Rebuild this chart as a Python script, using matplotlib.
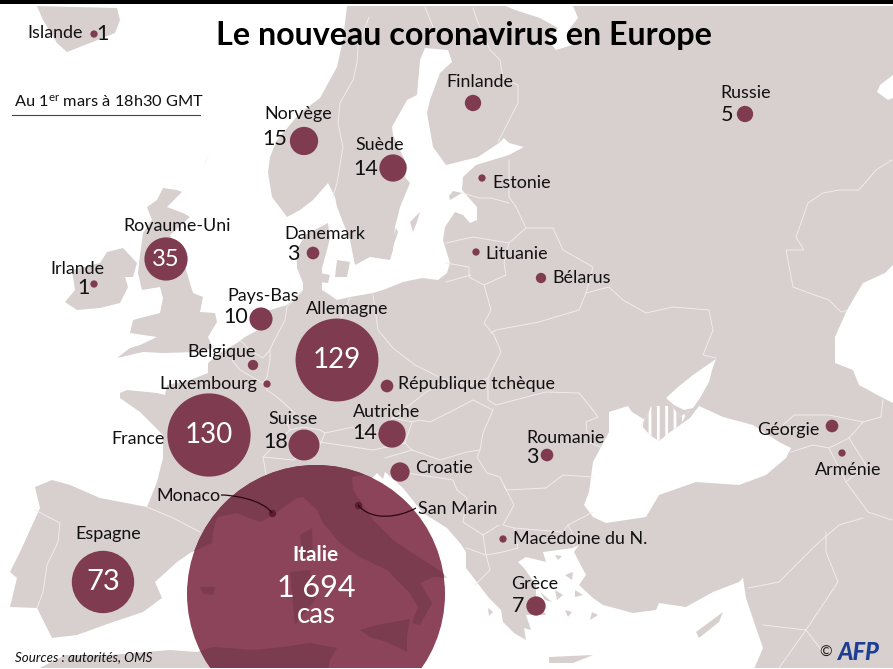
# -*- coding: utf-8 -*-
import numpy as np
import matplotlib
matplotlib.use('Agg')
import matplotlib.pyplot as plt
from matplotlib.patches import Circle, PathPatch
from matplotlib.path import Path

# cases per country (unlabelled ones)
countries = ['Islande', 'Norvège', 'Suède', 'Finlande', 'Russie', 'Estonie', 'Lituanie', 'Bélarus',
             'Royaume-Uni', 'Danemark', 'Irlande', 'Pays-Bas', 'Allemagne', 'Belgique', 'Luxembourg',
             'France', 'Suisse', 'Autriche', 'République tchèque', 'Croatie', 'Roumanie', 'Géorgie',
             'Arménie', 'Macédoine du N.', 'Grèce', 'Espagne', 'Italie', 'Monaco', 'San Marin']
cases = [1, 15, 14, 5, 5, 1, 1, 2, 35, 3, 1, 10, 129, 2, 1, 130, 18, 14, 3, 7, 3, 3, 1, 1, 7, 73, 1694, 1, 1]

# where each country sits on the map (map pixels)
map_x = [94, 304, 393, 473, 745, 482, 476, 541, 166, 313, 94, 261, 337, 253, 267, 209, 304, 392, 387, 400,
         547, 832, 842, 503, 536, 103, 316, 272, 358]
map_y = [34, 141, 168, 103, 114, 178, 252, 278, 259, 253, 284, 319, 360, 365, 384, 435, 445, 434, 386, 472,
         455, 426, 453, 539, 606, 582, 594, 513, 505]

# name labels: x, y, horizontal alignment
name_pos = {
    'Islande': (27, 33, 'left'), 'Norvège': (298, 114, 'center'), 'Suède': (380, 145, 'center'),
    'Finlande': (480, 82, 'center'), 'Russie': (746, 93, 'center'), 'Estonie': (492, 183, 'left'),
    'Lituanie': (485, 254, 'left'), 'Bélarus': (552, 278, 'left'), 'Royaume-Uni': (177, 226, 'center'),
    'Danemark': (325, 234, 'center'), 'Irlande': (77, 269, 'center'), 'Pays-Bas': (263, 296, 'center'),
    'Allemagne': (347, 309, 'center'), 'Belgique': (222, 352, 'center'), 'Luxembourg': (208, 384, 'center'),
    'France': (138, 439, 'center'), 'Suisse': (293, 419, 'center'), 'Autriche': (387, 412, 'center'),
    'République tchèque': (398, 384, 'left'), 'Croatie': (415, 468, 'left'), 'Roumanie': (566, 438, 'center'),
    'Géorgie': (788, 430, 'center'), 'Arménie': (848, 470, 'center'), 'Macédoine du N.': (513, 539, 'left'),
    'Grèce': (535, 584, 'center'), 'Espagne': (108, 534, 'center'), 'Monaco': (188, 496, 'center'),
    'San Marin': (418, 509, 'left'),
}
# case numbers written beside the bubble
side_numbers = {'Islande': (102, 34), 'Norvège': (275, 139), 'Suède': (366, 169), 'Russie': (727, 115),
                'Danemark': (293, 254), 'Irlande': (83, 288), 'Pays-Bas': (236, 317), 'Suisse': (276, 442),
                'Autriche': (365, 433), 'Roumanie': (532, 457), 'Grèce': (518, 606)}
inner_numbers = {'Royaume-Uni': ('35', 17), 'Allemagne': ('129', 20), 'France': ('130', 20), 'Espagne': ('73', 21)}

LAND = '#d8cfcf'
BUBBLE = '#7f3c50'

mainland = [(347, 6), (343, 40), (337, 67), (320, 98), (300, 113), (277, 140), (270, 157), (268, 173),
            (272, 197), (287, 217), (300, 210), (313, 200), (328, 183), (335, 197), (337, 207), (350, 240),
            (355, 265), (370, 257), (390, 260), (393, 250), (395, 227), (400, 207), (410, 183), (405, 177),
            (407, 165), (393, 135), (392, 127), (407, 100), (417, 95), (420, 60), (425, 48), (448, 50),
            (452, 62), (440, 73), (430, 100), (427, 113), (433, 147), (446, 165), (478, 157), (499, 143),
            (504, 138), (509, 143), (524, 147), (509, 155), (476, 165), (463, 177), (462, 190), (477, 207),
            (477, 220), (470, 223), (463, 215), (455, 212), (445, 227), (443, 240), (450, 263), (447, 273),
            (438, 280), (422, 278), (403, 282), (383, 290), (373, 293), (350, 297), (337, 300), (330, 295),
            (322, 290), (322, 268), (327, 250), (330, 238), (328, 223), (305, 235), (297, 250), (297, 268),
            (303, 283), (303, 290), (287, 305), (270, 310), (253, 310), (258, 330), (245, 337), (237, 343),
            (220, 353), (208, 363), (208, 373), (190, 380), (167, 385), (165, 395), (157, 393), (127, 390),
            (120, 393), (120, 398), (140, 412), (163, 435), (163, 458), (157, 482), (147, 507), (100, 498),
            (70, 485), (52, 480), (35, 487), (40, 508), (20, 552), (10, 572), (17, 578), (10, 607), (37, 608),
            (52, 638), (77, 635), (113, 622), (143, 612), (162, 598), (155, 582), (177, 562), (190, 553),
            (212, 543), (213, 532), (217, 517), (237, 513), (260, 522), (270, 517), (297, 498), (303, 497),
            (317, 510), (323, 523), (340, 543), (360, 557), (387, 570), (410, 593), (418, 607), (412, 623),
            (420, 625), (432, 603), (420, 583), (433, 577), (447, 578), (442, 572), (412, 553), (393, 540),
            (373, 520), (353, 490), (352, 477), (364, 475), (372, 478), (377, 473), (383, 479), (385, 472), (403, 488),
            (423, 513), (447, 528), (460, 543), (466, 552), (466, 568), (489, 598), (501, 610), (503, 622),
            (514, 633), (526, 640), (524, 628), (531, 630), (526, 615), (546, 615), (536, 598), (536, 585),
            (524, 568), (518, 562), (526, 557), (546, 562), (543, 552), (573, 548), (579, 545), (574, 552),
            (586, 575), (579, 585), (593, 598), (603, 605), (633, 613), (656, 610), (659, 603), (686, 607),
            (713, 592), (739, 582), (743, 578), (746, 598), (754, 622), (763, 648), (754, 669), (893, 669),
            (893, 6)]
ireland = [(107, 252), (123, 248), (137, 263), (133, 277), (125, 277), (128, 287), (120, 303), (100, 308),
           (77, 310), (65, 302), (75, 290), (72, 270), (100, 263)]
britain = [(177, 190), (163, 188), (157, 200), (147, 207), (152, 220), (143, 233), (140, 255), (138, 273),
           (142, 290), (160, 287), (163, 298), (160, 313), (133, 320), (130, 333), (157, 337), (140, 345),
           (130, 348), (117, 358), (143, 352), (163, 353), (197, 352), (213, 348), (208, 337), (217, 322),
           (215, 313), (200, 312), (203, 297), (193, 293), (183, 260), (170, 235), (190, 217), (183, 213),
           (167, 207), (182, 192)]
iceland = [(37, 6), (117, 8), (120, 20), (115, 33), (90, 43), (67, 52), (57, 43), (43, 20)]
zealand = [(337, 260), (350, 262), (347, 277), (335, 277)]
funen = [(320, 273), (330, 275), (328, 283), (318, 282)]
gotland = [(420, 212), (410, 222), (413, 232), (417, 222)]
oland = [(396, 228), (398, 232), (392, 250), (391, 246)]
saaremaa = [(450, 200), (462, 193), (453, 191), (449, 196)]
shetland = [(210, 152), (203, 167), (206, 160)]
corsica = [(300, 535), (312, 528), (313, 557), (303, 560)]
sardinia = [(290, 572), (310, 570), (315, 600), (295, 625)]
sicily = [(360, 630), (377, 625), (410, 619), (407, 635), (407, 652), (387, 642), (370, 637)]
majorca = [(200, 587), (215, 587), (213, 595), (204, 594)]
africa = [(38, 669), (65, 655), (110, 655), (170, 650), (197, 652), (213, 647), (253, 650), (283, 647),
          (310, 643), (337, 648), (330, 660), (328, 669)]
cyprus = [(696, 632), (723, 612), (719, 622), (699, 638)]
crete = [(549, 657), (593, 655), (573, 663), (549, 663)]
aegean = [[(565, 575), (573, 572), (572, 580)], [(575, 590), (583, 595), (575, 597)], [(555, 590), (563, 595), (557, 600)],
          [(592, 612), (598, 615), (590, 620)], [(540, 592), (552, 602), (545, 600)], [(565, 610), (572, 612), (568, 617)],
          [(587, 565), (594, 570), (588, 573)], [(555, 555), (562, 556), (558, 560)], [(488, 608), (493, 612), (489, 616)]]
lands = [mainland, ireland, britain, iceland, zealand, funen, gotland, oland, saaremaa, shetland, corsica,
         sardinia, sicily, majorca, africa, cyprus, crete] + aegean

black_sea = [(609, 412), (628, 406), (632, 412), (645, 420), (641, 425), (650, 435), (659, 441), (670, 432),
             (680, 425), (690, 418), (699, 406), (723, 417), (753, 425), (779, 442), (791, 448), (786, 458),
             (766, 475), (739, 485), (696, 482), (659, 495), (646, 517), (606, 523), (593, 517), (584, 505),
             (589, 492), (593, 462), (609, 432)]
azov = [(666, 398), (678, 387), (693, 375), (716, 359), (712, 370), (709, 382), (700, 398), (693, 408),
        (684, 410), (674, 405)]
white_sea = [(506, 6), (573, 6), (578, 18), (570, 28), (572, 45), (556, 50), (548, 40), (558, 28), (540, 18), (515, 10)]
caspian = [(893, 265), (885, 273), (863, 283), (847, 310), (835, 337), (835, 363), (853, 370), (859, 385),
           (883, 398), (893, 403)]
kara_bit = [(893, 75), (880, 85), (877, 92), (888, 100), (893, 98)]
seas = [black_sea, azov, white_sea, caspian, kara_bit]

crimea = [(641, 425), (647, 417), (651, 406), (672, 406), (680, 417), (690, 410), (680, 425), (670, 432), (659, 441), (650, 435)]

borders = [
    [(369, 17), (358, 47), (357, 63), (353, 80), (340, 103), (338, 123), (343, 147), (337, 183), (333, 197)],
    [(425, 7), (433, 27), (427, 43)],
    [(473, 8), (477, 20), (490, 50), (500, 60), (503, 78), (518, 85), (518, 103), (498, 142)],
    [(509, 160), (509, 197), (516, 207), (526, 228), (553, 228), (563, 250), (593, 267), (586, 293), (609, 287),
     (623, 300), (646, 313), (673, 307), (709, 310), (713, 330), (703, 355), (716, 358)],
    [(463, 193), (479, 198), (491, 198), (509, 203)],
    [(526, 228), (509, 243), (473, 237), (446, 243)],
    [(509, 243), (504, 263), (506, 275), (484, 285), (469, 277), (469, 267), (446, 263)],
    [(471, 275), (446, 282)],
    [(484, 285), (491, 310), (484, 323), (494, 335), (501, 352), (488, 378), (488, 400), (496, 405), (546, 392),
     (579, 393), (589, 405), (598, 417), (586, 422), (588, 442), (603, 448)],
    [(586, 293), (579, 310), (539, 322), (496, 330), (491, 333)],
    [(373, 295), (378, 330), (393, 348), (415, 365), (445, 380), (470, 385), (488, 378)],
    [(350, 298), (340, 320)],
    [(303, 290), (287, 307), (285, 320), (273, 343), (270, 350), (270, 360), (267, 377), (263, 383), (267, 390),
     (277, 397), (295, 413), (287, 423), (290, 430), (277, 443), (263, 457), (293, 460), (320, 445), (325, 433)],
    [(240, 340), (250, 350), (263, 358), (270, 350)],
    [(232, 360), (240, 370), (263, 383)],
    [(263, 457), (267, 480), (273, 513)],
    [(290, 430), (303, 427), (320, 430), (325, 433), (353, 427), (372, 437), (393, 418), (425, 393), (445, 380)],
    [(320, 442), (353, 447), (373, 450), (405, 443), (412, 422), (420, 420), (430, 422), (450, 412), (473, 400),
     (493, 410), (483, 433), (480, 450), (467, 452), (440, 460), (412, 450), (405, 443)],
    [(393, 418), (412, 422)],
    [(385, 458), (412, 450)],
    [(395, 472), (407, 473), (453, 480), (457, 490), (467, 498), (463, 522), (483, 535)],
    [(480, 450), (477, 457), (487, 473), (500, 477), (506, 490), (546, 488), (563, 475), (593, 477)],
    [(504, 485), (514, 505), (503, 525), (514, 528), (563, 532), (568, 525), (593, 512)],
    [(568, 525), (573, 535), (574, 548)],
    [(499, 525), (483, 535), (486, 555), (503, 552), (518, 548), (514, 528)],
    [(466, 548), (486, 555), (490, 570), (475, 585)],
    [(147, 507), (173, 518), (200, 532)],
    [(35, 510), (60, 523), (58, 542), (47, 565), (43, 592), (37, 608)],
    [(892, 160), (876, 170), (859, 190), (839, 190), (823, 193), (808, 203), (796, 237), (804, 250), (786, 250),
     (793, 287), (809, 293), (829, 300), (841, 312), (848, 310)],
    [(783, 425), (794, 415), (829, 415), (863, 422), (881, 417), (883, 400)],
    [(791, 452), (813, 445), (829, 448), (849, 438), (863, 422)],
    [(829, 448), (846, 482), (866, 465), (849, 438)],
    [(846, 482), (868, 512), (892, 520)],
    [(748, 588), (779, 582), (816, 545), (839, 525), (863, 518)],
    [(826, 532), (826, 552), (838, 582), (806, 630), (763, 625)],
    [(806, 630), (779, 668)],
    [(806, 630), (823, 652)],
]

plt.rcParams['font.family'] = ['Lato', 'DejaVu Sans']
plt.rcParams['mathtext.default'] = 'regular'
plt.rcParams['hatch.linewidth'] = 4

fig = plt.figure(figsize=(8.93, 6.69), dpi=100)
ax = fig.add_axes([0, 0, 1, 1])
ax.set_xlim(0, 893)
ax.set_ylim(669, 0)
ax.axis('off')

for poly in lands:
    xs, ys = zip(*poly)
    ax.fill(xs, ys, color=LAND, lw=0, zorder=1)
for poly in seas:
    xs, ys = zip(*poly)
    ax.fill(xs, ys, color='white', lw=0, zorder=2)
xs, ys = zip(*crimea)
ax.fill(xs, ys, facecolor='white', edgecolor=LAND, hatch='||', lw=0, zorder=2.5)
for line in borders:
    xs, ys = zip(*line)
    ax.plot(xs, ys, color='#f1ecec', lw=0.7, zorder=3, solid_joinstyle='round')

# bubble radius in pixels, Italy is capped on the original
values = np.array(cases, dtype=float)
radius = np.minimum(3.65 * np.sqrt(values), 129)
sizes = (2 * radius * 0.72) ** 2
italy = countries.index('Italie')
colors = [BUBBLE] * len(cases)
colors[italy] = '#8b4459'
ax.scatter(map_x, map_y, s=sizes, c=colors, linewidths=0, zorder=4)

clip = Circle((map_x[italy], map_y[italy]), radius[italy], transform=ax.transData)
for poly in lands:
    xs, ys = zip(*poly)
    for p in ax.fill(xs, ys, color='#7a3c4e', lw=0, zorder=4.5):
        p.set_clip_path(clip)

# Monaco / San Marin sit inside the big bubble
for name in ['Monaco', 'San Marin']:
    i = countries.index(name)
    ax.scatter(map_x[i], map_y[i], s=sizes[i], c='#5e1c30', linewidths=0, zorder=5)
leaders = [[(221, 495), (232, 495), (262, 499), (272, 513)], [(358, 505), (372, 522), (400, 517), (416, 508)]]
for pts in leaders:
    ax.add_patch(PathPatch(Path(pts, [Path.MOVETO, Path.CURVE4, Path.CURVE4, Path.CURVE4]),
                           fc='none', ec='#2a0812', lw=0.9, zorder=5))

for name, (x, y, ha) in name_pos.items():
    ax.text(x, y, name, ha=ha, va='center', fontsize=12.9, color='#111111', zorder=6)
for name, (x, y) in side_numbers.items():
    ax.text(x, y, str(cases[countries.index(name)]), ha='center', va='center', fontsize=15.5, color='#111111', zorder=6)
for name, (label, size) in inner_numbers.items():
    i = countries.index(name)
    ax.text(map_x[i], map_y[i], label, ha='center', va='center', fontsize=size, color='white', zorder=6)

ax.text(316, 555, 'Italie', ha='center', va='center', fontsize=15, fontweight='bold', color='white', zorder=6)
ax.text(316, 588, '1 694', ha='center', va='center', fontsize=22, color='white', zorder=6)
ax.text(316, 615, 'cas', ha='center', va='center', fontsize=20, color='white', zorder=6)

ax.text(464, 35, 'Le nouveau coronavirus en Europe', ha='center', va='center', fontsize=23.2, fontweight='bold',
        color='black', zorder=7)
ax.text(14, 102, 'Au 1$^{er}$ mars à 18h30 GMT', ha='left', va='center', fontsize=11.8, color='#111111', zorder=7)
ax.plot([12, 200], [115, 115], color='#444444', lw=0.8, zorder=7)
ax.text(15, 657, 'Sources : autorités, OMS', ha='left', va='center', fontsize=9.6, style='italic', color='#111111', zorder=7)
ax.text(826, 653, '©', ha='center', va='center', fontsize=11, color='#222222', zorder=7)
ax.text(858, 652, 'AFP', ha='center', va='center', fontsize=17, fontweight='black', style='italic', color='#1c3f94', zorder=7)

ax.axhspan(0, 4, color='black', lw=0, zorder=8)
ax.axhspan(4, 5.5, color='white', lw=0, zorder=8)
ax.axhspan(667.5, 669, color='white', lw=0, zorder=8)

fig.savefig('out.png', dpi=100)
